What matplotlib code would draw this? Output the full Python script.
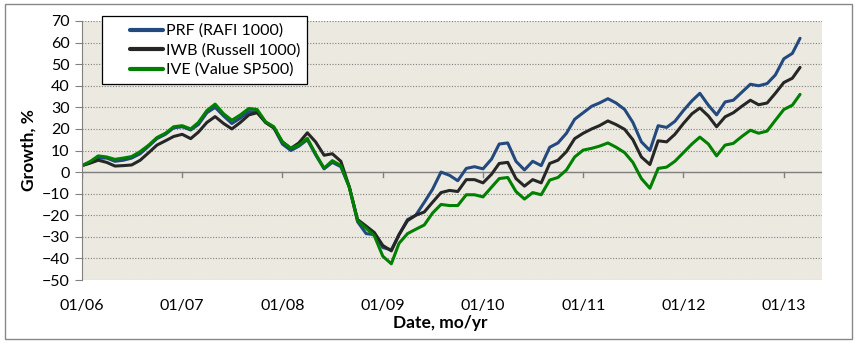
import numpy as np
import pandas as pd
import matplotlib
matplotlib.use("Agg")
import matplotlib.pyplot as plt
import matplotlib.dates as mdates
from matplotlib.patches import Rectangle

# monthly growth (%) since Jan 2006
dates = pd.date_range("2006-01-01", periods=87, freq="MS")

prf = [3, 4.5, 6.5, 6.5, 5, 5.5, 6.5, 8.5, 12, 15.5, 17.5, 20.5,
       21, 19.5, 22, 27.5, 30, 26, 22.5, 25, 28, 28, 23, 20.5,
       13, 10, 12, 15, 8, 1.5, 4.5, 2.5, -7, -23, -28.5, -29,
       -35, -36, -29, -22, -20, -14, -8, 0, -1.5, -4, 1.7, 2.5,
       1.5, 6, 13, 13.5, 5, 1, 5, 3, 11.5, 13.5, 18, 24.5,
       27.5, 30.5, 32, 34, 32, 29, 23, 14, 10, 21.5, 20.7, 23.5,
       28.5, 33, 36.5, 31, 26.5, 32.5, 33.3, 37, 40.7, 40, 41, 45,
       52.5, 55, 62]
iwb = [3, 4.2, 5.5, 4.5, 2.8, 3, 3.3, 5.5, 9, 12.5, 14.5, 16.5,
       17.5, 15.5, 18.5, 23, 25.7, 22.5, 20, 23, 26.5, 27.5, 23, 20.5,
       14, 11, 13.5, 18.2, 14, 7.8, 8.5, 5, -7, -22, -25, -28,
       -34, -36.5, -29, -22.5, -20, -18.5, -14, -9.5, -8.5, -9, -3.5, -3.5,
       -5, -1, 4, 4.5, -3, -6.5, -3.5, -5, 4, 5.5, 9.5, 15.5,
       18, 20, 21.5, 23.7, 22, 19.8, 15, 7, 3.5, 14.5, 14, 17.5,
       22.5, 27, 29.7, 26, 21, 25.6, 27.5, 30.5, 33.3, 31.2, 32, 36.5,
       41.5, 43.5, 48.5]
ive = [3, 5, 7.5, 7, 5.9, 6.5, 7.2, 9.5, 12.5, 16, 18, 21,
       21.5, 20, 23, 28.5, 31.5, 27, 24, 26.5, 29.5, 29, 23.3, 21,
       14, 11, 12.5, 15.6, 8.5, 1.8, 5.3, 3, -7, -22.5, -26, -29.5,
       -39, -42.5, -33, -28.5, -26.5, -24.5, -19, -15, -15.5, -15.5, -10.5, -10.5,
       -11.5, -7, -3, -2.5, -9, -12.5, -9.5, -10.5, -3.7, -2.5, 1, 7,
       10.2, 11, 12, 13.5, 11.5, 9, 4.5, -3, -7.5, 1.7, 2.3, 5,
       9, 13, 16.2, 13, 7.5, 12.5, 13.3, 16.5, 19.4, 18, 19, 24,
       29, 31, 36]

names = ["PRF (RAFI 1000)", "IWB (Russell 1000)", "IVE (Value SP500)"]
colors = ["#23497E", "#262626", "#008000"]

plt.rcParams["font.family"] = ["Lato", "DejaVu Sans"]

W, H = 857, 347
fig = plt.figure(figsize=(W / 100, H / 100), dpi=100)
fig.patch.set_facecolor("white")
ax = fig.add_axes([82 / W, 1 - 280 / H, (822 - 82) / W, (280 - 21) / H])
ax.set_facecolor("#ECEAE0")

for y, name, c in zip([prf, iwb, ive], names, colors):
    ax.plot(dates, y, color=c, lw=2.2, label=name, solid_capstyle="round",
            solid_joinstyle="round")

ax.set_ylim(-50, 70)
ax.set_yticks(np.arange(-50, 71, 10))
ax.set_xlim(pd.Timestamp("2006-01-01"), pd.Timestamp("2013-05-20"))
ax.xaxis.set_major_locator(mdates.YearLocator())
ax.xaxis.set_major_formatter(mdates.DateFormatter("%m/%y"))

ax.grid(axis="y", color="#808080", linestyle=(0, (1, 1.5)), lw=0.8)
ax.set_axisbelow(True)
for s in ["top", "right", "bottom"]:
    ax.spines[s].set_visible(False)
ax.spines["left"].set_color("#808080")
ax.axhline(0, color="#808080", lw=1, zorder=1)

ax.tick_params(axis="y", direction="out", length=5, color="#808080",
               labelsize=11.5, pad=4)
ax.tick_params(axis="x", direction="out", length=0, labelsize=11.5, pad=14)
# small ticks hanging from the zero line
for d in pd.date_range("2006-01-01", "2013-01-01", freq="YS"):
    ax.plot([d, d], [0, -2.2], color="#808080", lw=1, zorder=1)

fig.text(28.5 / W, 1 - 150 / H, "Growth, %", rotation=90, ha="center",
         va="center", fontsize=12.5, fontweight="bold")
fig.text(440 / W, 1 - 323 / H, "Date, mo/yr", ha="center", va="center",
         fontsize=12.5, fontweight="bold")

# legend: box drawn by hand, entries by the legend itself
fig.patches.append(Rectangle((101.7 / W, 1 - 84 / H), 205.3 / W, 68 / H,
                             transform=fig.transFigure, facecolor="white",
                             edgecolor="black", lw=0.9, zorder=5))
leg = fig.legend(loc="center left", bbox_to_anchor=(121.7 / W, 1 - 50.5 / H),
                 fontsize=11.5, frameon=False, borderpad=0,
                 handlelength=2.1, handletextpad=0.15, labelspacing=0.32)
leg.set_zorder(6)
for line in leg.get_lines():
    line.set_linewidth(3)

fig.patches.append(Rectangle((5 / W, 1 - 339 / H), 847 / W, 335 / H,
                             transform=fig.transFigure, fill=False,
                             edgecolor="#888888", lw=1))

fig.savefig("out.png", dpi=100)
